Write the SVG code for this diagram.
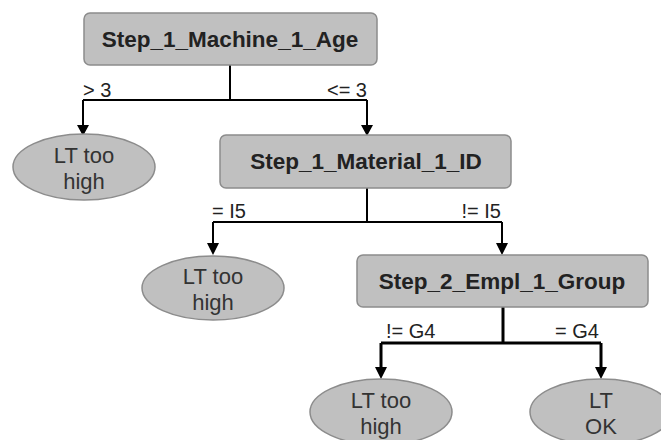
<svg xmlns="http://www.w3.org/2000/svg" width="661" height="440" viewBox="0 0 661 440">
<style>
.box{fill:#c0c0c0;stroke:#8c8c8c;stroke-width:1.5}
.leaf{fill:#c0c0c0;stroke:#8c8c8c;stroke-width:1.5}
.bt{font-family:"Liberation Sans",Arial,sans-serif;font-weight:bold;font-size:22.5px;fill:#222;text-anchor:middle}
.lt{font-family:"Liberation Sans",Arial,sans-serif;font-size:22px;fill:#333;text-anchor:middle}
.el{font-family:"Liberation Sans",Arial,sans-serif;font-size:20px;fill:#222}
.ln{fill:none;stroke:#000;stroke-width:2}
.ah{fill:#000}
</style>
<rect width="661" height="440" fill="#fff"/>
<g id="connectors">
<path class="ln" d="M230,65 V100 M83,100 H367 M83,100 V126 M367,100 V126"/>
<path class="ah" d="M77,125 L89,125 L83,136 Z M361,125 L373,125 L367,136 Z"/>
<text class="el" x="83" y="97">&gt; 3</text>
<text class="el" x="367" y="97" text-anchor="end">&lt;= 3</text>
<path class="ln" d="M367,188 V222 M213,222 H502 M213,222 V244 M502,222 V244"/>
<path class="ah" d="M207,243 L219,243 L213,255 Z M496,243 L508,243 L502,255 Z"/>
<text class="el" x="212" y="218">= I5</text>
<text class="el" x="501" y="218" text-anchor="end">!= I5</text>
<path class="ln" style="stroke-width:3" d="M503,307 V343 M381,343 H601 M381,343 V368 M601,343 V368"/>
<path class="ah" d="M375,367 L387,367 L381,379 Z M595,367 L607,367 L601,379 Z"/>
<text class="el" x="386" y="338">!= G4</text>
<text class="el" x="599" y="338" text-anchor="end">= G4</text>
</g>
<g id="n_root">
<rect class="box" x="84" y="13" width="293" height="52" rx="6"/>
<text class="bt" x="230" y="47">Step_1_Machine_1_Age</text>
</g>
<g id="n_leaf1">
<ellipse class="leaf" cx="84" cy="167" rx="71" ry="33"/>
<text class="lt" x="84" y="163">LT too</text>
<text class="lt" x="84" y="189">high</text>
</g>
<g id="n_material">
<rect class="box" x="220" y="135" width="291" height="53" rx="6"/>
<text class="bt" x="366" y="169">Step_1_Material_1_ID</text>
</g>
<g id="n_leaf2">
<ellipse class="leaf" cx="213" cy="288" rx="71" ry="32"/>
<text class="lt" x="213" y="284">LT too</text>
<text class="lt" x="213" y="310">high</text>
</g>
<g id="n_empl">
<rect class="box" x="357" y="255" width="291" height="52" rx="6"/>
<text class="bt" x="502" y="289">Step_2_Empl_1_Group</text>
</g>
<g id="n_leaf3">
<ellipse class="leaf" cx="381" cy="412" rx="71" ry="33"/>
<text class="lt" x="381" y="408">LT too</text>
<text class="lt" x="381" y="434">high</text>
</g>
<g id="n_leaf4">
<ellipse class="leaf" cx="601" cy="412" rx="71" ry="33"/>
<text class="lt" x="601" y="408">LT</text>
<text class="lt" x="601" y="434">OK</text>
</g>
</svg>
